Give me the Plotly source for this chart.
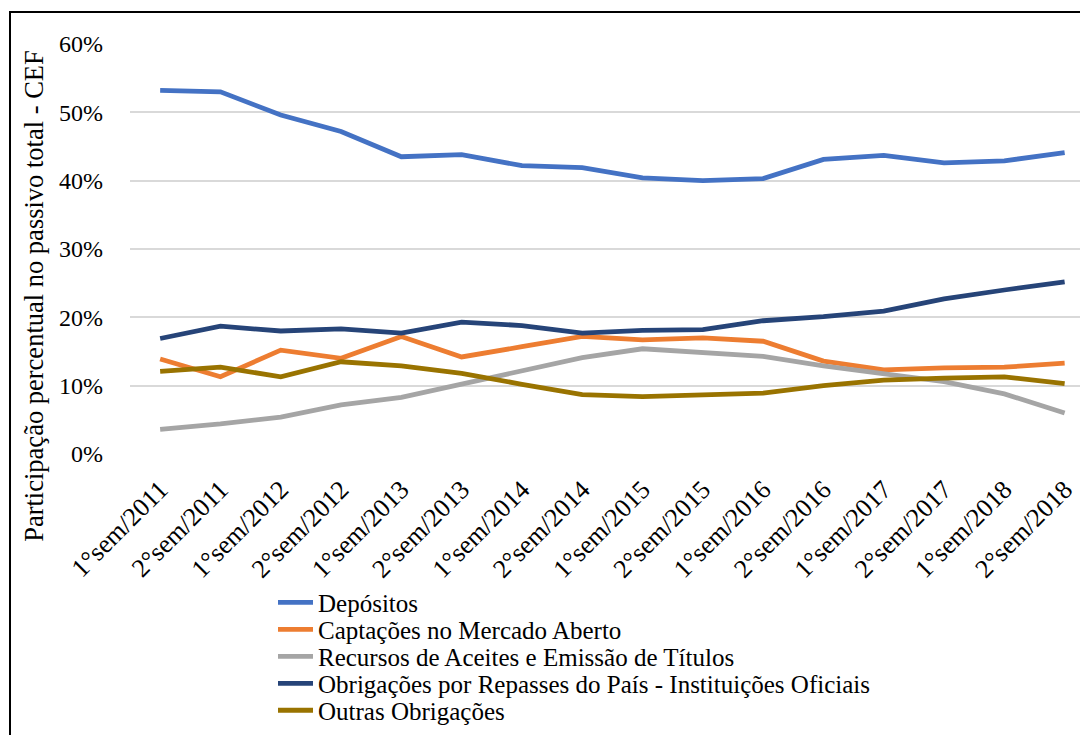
import plotly.graph_objects as go

categories = ["1°sem/2011", "2°sem/2011", "1°sem/2012", "2°sem/2012", "1°sem/2013",
              "2°sem/2013", "1°sem/2014", "2°sem/2014", "1°sem/2015", "2°sem/2015",
              "1°sem/2016", "2°sem/2016", "1°sem/2017", "2°sem/2017", "1°sem/2018",
              "2°sem/2018"]

depositos = [53.2, 53.0, 49.6, 47.2, 43.5, 43.8, 42.2, 41.9, 40.4, 40.0, 40.3, 43.1, 43.7, 42.6, 42.9, 44.1]
captacoes = [13.9, 11.3, 15.2, 14.0, 17.2, 14.2, 15.7, 17.2, 16.7, 17.0, 16.5, 13.6, 12.3, 12.6, 12.7, 13.3]
recursos = [3.6, 4.4, 5.4, 7.2, 8.3, 10.2, 12.2, 14.1, 15.4, 14.9, 14.3, 12.9, 11.8, 10.6, 8.8, 6.0]
obrigacoes = [16.9, 18.7, 18.0, 18.3, 17.7, 19.3, 18.8, 17.7, 18.1, 18.2, 19.5, 20.1, 20.9, 22.7, 24.0, 25.2]
outras = [12.1, 12.7, 11.3, 13.5, 12.9, 11.8, 10.2, 8.7, 8.4, 8.6, 8.9, 10.0, 10.8, 11.1, 11.3, 10.3]

series_names = ["Depósitos", "Captações no Mercado Aberto",
                "Recursos de Aceites e Emissão de Títulos",
                "Obrigações por Repasses do País - Instituições Oficiais",
                "Outras Obrigações"]
series_values = [depositos, captacoes, recursos, obrigacoes, outras]
series_colors = ["#4472C4", "#ED7D31", "#A5A5A5", "#264478", "#997300"]

FONT = "Liberation Serif"

# plot area in page pixels (page has an 8px body margin, compensated in margins)
PL, PT, PW, PH = 130, 44, 966, 410.3

def px_x(x):
    return (x - PL) / PW

def px_y(y):
    return 1 - (y - PT) / PH

legend_rows = [603, 630, 657, 684, 711]
legend_ids = ["legend", "legend2", "legend3", "legend4", "legend5"]

fig = go.Figure()
for name, vals, color, lid in zip(series_names, series_values, series_colors, legend_ids):
    fig.add_trace(go.Scatter(
        x=list(range(len(categories))), y=[v / 100 for v in vals], name=name,
        mode="lines", line=dict(color=color, width=4.8), legend=lid,
    ))

legend_layout = {}
for lid, row in zip(legend_ids, legend_rows):
    legend_layout[lid] = dict(
        x=px_x(273), y=px_y(row), xanchor="left", yanchor="middle",
        font=dict(family=FONT, size=25, color="black"),
        bgcolor="rgba(0,0,0,0)", borderwidth=0, itemwidth=35,
    )

fig.update_layout(
    width=1088, height=735,
    margin=dict(l=122, r=0, t=36, b=735 - 36 - PH),
    paper_bgcolor="white", plot_bgcolor="white",
    font=dict(family=FONT, size=24, color="black"),
    showlegend=True,
    xaxis=dict(
        tickmode="array", tickvals=list(range(len(categories))), ticktext=categories,
        range=[-0.5, 15.52], tickangle=-45, showgrid=False, zeroline=False,
        showline=False, ticks="", ticklabelstandoff=14,
        tickfont=dict(family=FONT, size=26, color="black"),
    ),
    yaxis=dict(
        range=[0, 0.6], tickformat=".0%", dtick=0.1, showgrid=True,
        gridcolor="#D9D9D9", gridwidth=1.5, zeroline=False, showline=False,
        ticks="", ticklen=0, ticklabelstandoff=26,
        tickfont=dict(family=FONT, size=24, color="black"),
    ),
    shapes=[dict(type="rect", xref="paper", yref="paper",
                 x0=px_x(10), x1=1.2, y0=-1.0, y1=px_y(12),
                 line=dict(color="black", width=2), fillcolor="rgba(0,0,0,0)", layer="below")],
    annotations=[dict(text="Participação percentual no passivo total - CEF",
                      xref="paper", yref="paper", x=px_x(34), y=px_y(296),
                      xanchor="center", yanchor="middle", textangle=-90, showarrow=False,
                      font=dict(family=FONT, size=26.5, color="black"))],
    **legend_layout,
)

fig.write_html("out.html")
